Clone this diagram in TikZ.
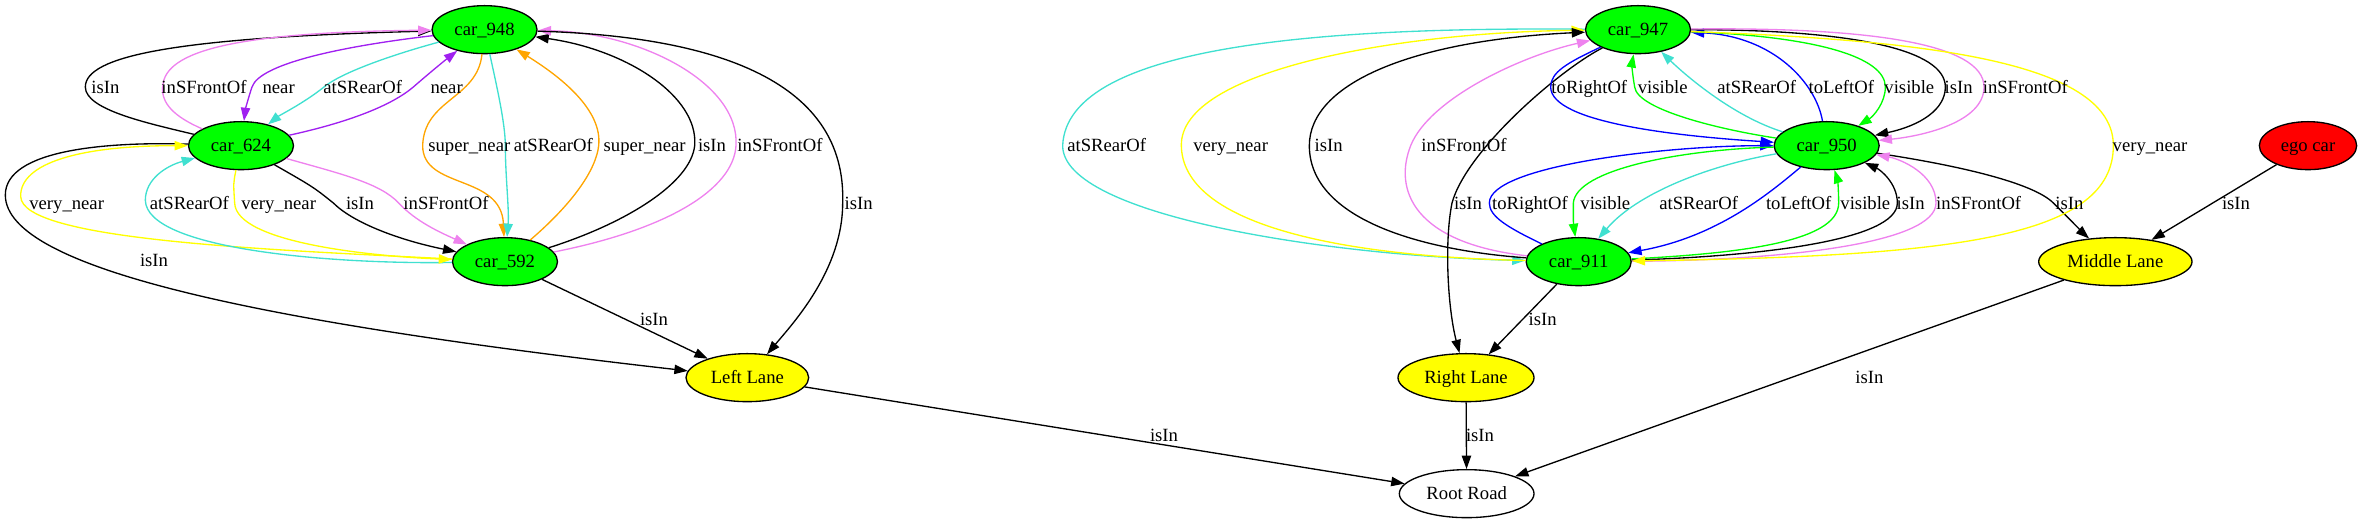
\documentclass[tikz,border=0pt]{standalone}
\usepackage{fontspec}
\setmainfont{Liberation Serif}
\usetikzlibrary{arrows.meta,shapes.geometric}
\definecolor{gvgreen}{HTML}{00FF00}
\definecolor{gvyellow}{HTML}{FFFF00}
\definecolor{gvred}{HTML}{FF0000}
\definecolor{gvturq}{HTML}{40E0D0}
\definecolor{gvviolet}{HTML}{EE82EE}
\definecolor{gvpurple}{HTML}{A020F0}
\definecolor{gvorange}{HTML}{FFA500}
\definecolor{gvblue}{HTML}{0000FF}
\begin{document}
\begin{tikzpicture}[x=1pt,y=1pt,
  every node/.style={font=\fontsize{14}{16}\selectfont},
  gn/.style={ellipse, draw=black, line width=1pt, inner sep=0pt, minimum height=36pt, text height=9.3pt, text depth=0pt},
  car/.style={gn, fill=gvgreen, minimum width=78.75pt},
  lane/.style={gn, fill=gvyellow},
  ed/.style={-{Triangle[length=10pt,width=7pt]}, line width=1pt},
  lab/.style={anchor=base, yshift=-4.6pt, inner sep=0pt},
]
\useasboundingbox (0,0) rectangle (1772.25,392.25);
% nodes
\node[car] (c948) at (363.4,370) {car\_948};
\node[car] (c624) at (180.75,283) {car\_624};
\node[car] (c592) at (378.75,196) {car\_592};
\node[lane, minimum width=92pt] (LL) at (560.5,109) {Left Lane};
\node[gn, fill=white, minimum width=101pt] (RR) at (1100,22) {Root Road};
\node[car] (c947) at (1228.5,370) {car\_947};
\node[car] (c950) at (1370,283) {car\_950};
\node[car] (c911) at (1184,196) {car\_911};
\node[lane, minimum width=102pt] (RL) at (1099.5,109) {Right Lane};
\node[lane, minimum width=115pt] (ML) at (1586.5,196) {Middle Lane};
\node[gn, fill=gvred, minimum width=73pt] (ego) at (1731,283) {ego car};
% ---------- left cluster edges
\draw[ed] (c624) .. controls (110,300) and (64,310) .. (64,327) .. controls (64,350) and (130,364) .. (c948);
\draw[ed,gvviolet] (c624) .. controls (130,305) and (121,315) .. (122,327) .. controls (123,350) and (160,368) .. (c948);
\draw[ed,gvpurple] (c948) .. controls (260,358) and (195,345) .. (189,327) .. controls (186,318) and (184,310) .. (c624);
\draw[ed,gvturq] (c948) .. controls (290,350) and (255,337) .. (243,327) .. controls (228,315) and (210,306) .. (c624);
\draw[ed,gvpurple] (c624) .. controls (250,298) and (290,310) .. (310,327) .. controls (325,340) and (335,348) .. (c948);
\draw[ed,gvorange] (c948) .. controls (358,318) and (318,318) .. (317,283) .. controls (317,250) and (376,262) .. (c592);
\draw[ed,gvturq] (c948) .. controls (372,330) and (379,300) .. (379,283) .. controls (379,260) and (382,235) .. (c592);
\draw[ed,gvorange] (c592) .. controls (430,240) and (447,265) .. (449,283) .. controls (452,310) and (420,335) .. (c948);
\draw[ed] (c592) .. controls (470,225) and (518,255) .. (521,283) .. controls (524,320) and (470,355) .. (c948);
\draw[ed,gvviolet] (c592) .. controls (500,220) and (550,250) .. (552,283) .. controls (555,330) and (480,368) .. (c948);
\draw[ed] (c948) .. controls (540,365) and (635,330) .. (632,240) .. controls (632,190) and (595,150) .. (LL);
\draw[ed] (c624) .. controls (80,286) and (4,280) .. (4,246) .. controls (4,190) and (200,150) .. (LL);
\draw[ed,gvyellow] (c592) .. controls (200,205) and (16,212) .. (15.5,245) .. controls (15,270) and (60,283) .. (c624);
\draw[ed,gvturq] (c592) .. controls (250,194) and (110,205) .. (109,242) .. controls (109,258) and (125,268) .. (c624);
\draw[ed,gvyellow] (c624) .. controls (175,255) .. (176,240) .. controls (177,210) and (280,200) .. (c592);
\draw[ed] (c624) .. controls (235,252) .. (250,240) .. controls (265,225) and (300,212) .. (c592);
\draw[ed,gvviolet] (c624) .. controls (255,262) and (285,255) .. (299,240) .. controls (312,226) and (330,218) .. (c592);
\draw[ed] (c592) -- (LL);
\draw[ed] (LL) -- (RR);
% ---------- right cluster edges
\draw[ed,gvturq] (c947) .. controls (1000,372) and (800,360) .. (797,283) .. controls (797,230) and (1000,200) .. (c911);
\draw[ed,gvyellow] (c911) .. controls (1000,200) and (887,225) .. (886,283) .. controls (885,340) and (1050,368) .. (c947);
\draw[ed] (c911) .. controls (1060,205) and (982,230) .. (982,283) .. controls (982,330) and (1060,362) .. (c947);
\draw[ed,gvviolet] (c911) .. controls (1060,210) and (1045,250) .. (1058,283) .. controls (1072,318) and (1140,350) .. (c947);
\draw[ed] (c947) .. controls (1170,340) and (1100,280) .. (1089,240) .. controls (1083,210) and (1086,160) .. (RL);
\draw[ed] (c911) -- (RL);
\draw[ed] (RL) -- (RR);
\draw[ed] (ML) -- (RR);
\draw[ed] (c950) .. controls (1470,268) and (1525,255) .. (1540,240) .. controls (1555,225) and (1565,215) .. (ML);
\draw[ed] (ego) -- (ML);
\draw[ed,gvblue] (c947) .. controls (1175,345) and (1163,338) .. (1163,327) .. controls (1163,300) and (1260,290) .. (c950);
\draw[ed,gvgreen] (c950) .. controls (1290,295) and (1228,310) .. (1226,327) .. controls (1224,338) and (1224,345) .. (c947);
\draw[ed,gvturq] (c950) .. controls (1300,305) and (1265,335) .. (c947);
\draw[ed,gvblue] (c950) .. controls (1362,330) and (1330,365) .. (c947);
\draw[ed,gvgreen] (c947) .. controls (1360,365) and (1414,350) .. (1414,327) .. controls (1414,315) and (1405,305) .. (c950);
\draw[ed] (c947) .. controls (1390,370) and (1459,355) .. (1459,327) .. controls (1459,310) and (1440,298) .. (c950);
\draw[ed,gvviolet] (c947) .. controls (1400,372) and (1488,360) .. (1488,327) .. controls (1488,300) and (1440,290) .. (c950);
\draw[ed,gvblue] (c911) .. controls (1130,222) and (1117,230) .. (1117,240) .. controls (1117,268) and (1250,283) .. (c950);
\draw[ed,gvgreen] (c950) .. controls (1260,280) and (1182,265) .. (1180,240) .. controls (1180,232) and (1180,225) .. (c911);
\draw[ed,gvturq] (c950) .. controls (1290,270) and (1230,250) .. (c911);
\draw[ed,gvblue] (c950) .. controls (1330,250) and (1290,215) .. (c911);
\draw[ed,gvgreen] (c911) .. controls (1300,202) and (1379,210) .. (1379,240) .. controls (1379,250) and (1378,258) .. (c950);
\draw[ed] (c911) .. controls (1320,200) and (1423,212) .. (1423,240) .. controls (1423,255) and (1410,265) .. (c950);
\draw[ed,gvviolet] (c911) .. controls (1340,197) and (1452,210) .. (1452,240) .. controls (1452,262) and (1425,273) .. (c950);
\draw[ed,gvyellow] (c947) .. controls (1450,362) and (1585,345) .. (1585,283) .. controls (1585,215) and (1470,200) .. (c911);
% ---------- labels
\node[lab] (l1) at (79,327) {isIn};
\node[lab] (l2) at (153,327) {inSFrontOf};
\node[lab] (l3) at (209,327) {near};
\node[lab] (l4) at (272,327) {atSRearOf};
\node[lab] (l5) at (335,327) {near};
\node[lab] (l6) at (352,283) {super\_near};
\node[lab] (l7) at (415,283) {atSRearOf};
\node[lab] (l8) at (483.5,283) {super\_near};
\node[lab] (l9) at (534,283) {isIn};
\node[lab] (l10) at (585,283) {inSFrontOf};
\node[lab] (l11) at (644,240) {isIn};
\node[lab] (l12) at (115.5,197) {isIn};
\node[lab] (l13) at (50,240) {very\_near};
\node[lab] (l14) at (142,240) {atSRearOf};
\node[lab] (l15) at (209,240) {very\_near};
\node[lab] (l16) at (270,240) {isIn};
\node[lab] (l17) at (334.5,240) {inSFrontOf};
\node[lab] (l18) at (490.5,153) {isIn};
\node[lab] (l19) at (873,66) {isIn};
\node[lab] (l20) at (830,283) {atSRearOf};
\node[lab] (l21) at (923,283) {very\_near};
\node[lab] (l22) at (996.5,283) {isIn};
\node[lab] (l23) at (1098,283) {inSFrontOf};
\node[lab] (l24) at (1101,240) {isIn};
\node[lab] (l25) at (1157,153) {isIn};
\node[lab] (l26) at (1110,66) {isIn};
\node[lab] (l27) at (1402,109) {isIn};
\node[lab] (l28) at (1552,240) {isIn};
\node[lab] (l29) at (1677,240) {isIn};
\node[lab] (l30) at (1192,327) {toRightOf};
\node[lab] (l31) at (1247,327) {visible};
\node[lab] (l32) at (1317.5,327) {atSRearOf};
\node[lab] (l33) at (1381,327) {toLeftOf};
\node[lab] (l34) at (1432,327) {visible};
\node[lab] (l35) at (1469,327) {isIn};
\node[lab] (l36) at (1519,327) {inSFrontOf};
\node[lab] (l37) at (1147.5,240) {toRightOf};
\node[lab] (l38) at (1204,240) {visible};
\node[lab] (l39) at (1274,240) {atSRearOf};
\node[lab] (l40) at (1349,240) {toLeftOf};
\node[lab] (l41) at (1399,240) {visible};
\node[lab] (l42) at (1433,240) {isIn};
\node[lab] (l43) at (1484,240) {inSFrontOf};
\node[lab] (l44) at (1612.5,283) {very\_near};
\end{tikzpicture}
\end{document}
